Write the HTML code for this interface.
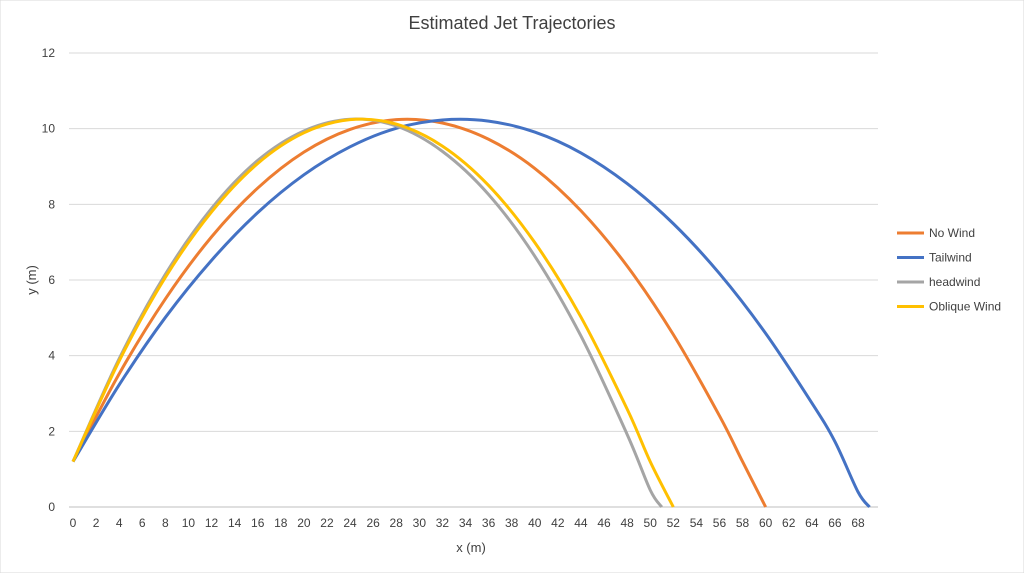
<!DOCTYPE html>
<html><head><meta charset="utf-8"><style>
body{margin:0;background:#fff;font-family:"Liberation Sans",sans-serif;}
svg text{font-family:"Liberation Sans",sans-serif;fill:#404040;}
</style></head><body>
<svg id="chart" width="1024" height="573" viewBox="0 0 1024 573" xmlns="http://www.w3.org/2000/svg">
<rect width="1024" height="573" fill="#fff" stroke="#d9d9d9"/>
<text x="512" y="29" text-anchor="middle" font-size="18">Estimated Jet Trajectories</text>
<g id="grid"></g><g id="axes"></g><g id="series"></g><g id="legend"></g>
<text x="471" y="552" text-anchor="middle" font-size="13">x (m)</text>
<text transform="translate(36,280) rotate(-90)" text-anchor="middle" font-size="13">y (m)</text>
</svg>
<script>
const seriesNames=["No Wind","Tailwind","headwind","Oblique Wind"];
const seriesColors=["#ed7d31","#4472c4","#a5a5a5","#ffc000"];
const noWindX=[0,4,8,12,16,20,24,28,32,36,40,44,48,52,56,58,60];
const noWindY=[1.2,3.52,5.5,7.14,8.43,9.38,9.98,10.24,10.15,9.72,8.95,7.83,6.37,4.56,2.41,1.2,0];
const tailX=[0,4,8,12,16,20,24,28,32,36,40,44,48,52,56,60,64,66,68,69];
const tailY=[1.2,3.23,5.01,6.52,7.78,8.78,9.52,10.01,10.23,10.2,9.91,9.36,8.55,7.49,6.17,4.59,2.75,1.73,0.4,0];
const headX=[0,4,8,12,16,20,24,28,32,36,40,44,48,50,51];
const headY=[1.2,3.92,6.15,7.89,9.16,9.94,10.25,10.07,9.4,8.26,6.63,4.52,1.92,0.45,0];
const obliqueX=[0,4,8,12,16,20,24,28,32,36,40,44,48,50,52];
const obliqueY=[1.2,3.86,6.07,7.8,9.08,9.89,10.24,10.12,9.54,8.5,6.99,5.02,2.59,1.2,0];
const xTicks=[0,2,4,6,8,10,12,14,16,18,20,22,24,26,28,30,32,34,36,38,40,42,44,46,48,50,52,54,56,58,60,62,64,66,68];
const yTicks=[0,2,4,6,8,10,12];

const X0=73,X1=858,Y0=507,Y1=53,XL=68,YL=12;
const sx=v=>X0+(X1-X0)*v/XL;
const sy=v=>Y0-(Y0-Y1)*v/YL;
const NS="http://www.w3.org/2000/svg";
function mk(tag,attrs,parent){const e=document.createElementNS(NS,tag);for(const k in attrs)e.setAttribute(k,attrs[k]);parent.appendChild(e);return e;}
const grid=document.getElementById('grid'),axes=document.getElementById('axes'),ser=document.getElementById('series'),leg=document.getElementById('legend');
yTicks.forEach(t=>{
  const l=mk('line',{x1:X0-4,x2:878,y1:sy(t),y2:sy(t),stroke:t===0?'#bfbfbf':'#d9d9d9','stroke-width':1},grid);
  
  
  const tx=mk('text',{x:55,y:sy(t)+4,'text-anchor':'end','font-size':12},axes);tx.textContent=t;
  
  
});
xTicks.forEach(t=>{
  const tx=mk('text',{x:sx(t),y:527,'text-anchor':'middle','font-size':12},axes);tx.textContent=t;
  
  
});
function smoothPath(xs,ys){
  const p=xs.map((x,i)=>[sx(x),sy(ys[i])]);
  let d='M'+p[0][0]+','+p[0][1];
  for(let i=0;i<p.length-1;i++){
    const a=p[Math.max(0,i-1)],b=p[i],c=p[i+1],e=p[Math.min(p.length-1,i+2)];
    const c1=[b[0]+(c[0]-a[0])/6,b[1]+(c[1]-a[1])/6],c2=[c[0]-(e[0]-b[0])/6,c[1]-(e[1]-b[1])/6];
    d+=' C'+c1[0]+','+c1[1]+' '+c2[0]+','+c2[1]+' '+c[0]+','+c[1];
  }
  return d;
}
const data=[[noWindX,noWindY],[tailX,tailY],[headX,headY],[obliqueX,obliqueY]];
const keys=['no-wind','tailwind','headwind','oblique-wind'];
data.forEach((s,i)=>{
  const p=mk('path',{d:smoothPath(s[0],s[1]),fill:'none',stroke:seriesColors[i],'stroke-width':3,'stroke-linejoin':'round'},ser);
  
  
  const y=233+i*24.5;
  const g=mk('g',{},leg);
  
  
  mk('line',{x1:897,x2:924,y1:y,y2:y,stroke:seriesColors[i],'stroke-width':3},g);
  const t=mk('text',{x:929,y:y+4,'font-size':12},g);t.textContent=seriesNames[i];
});
</script>
</body></html>
